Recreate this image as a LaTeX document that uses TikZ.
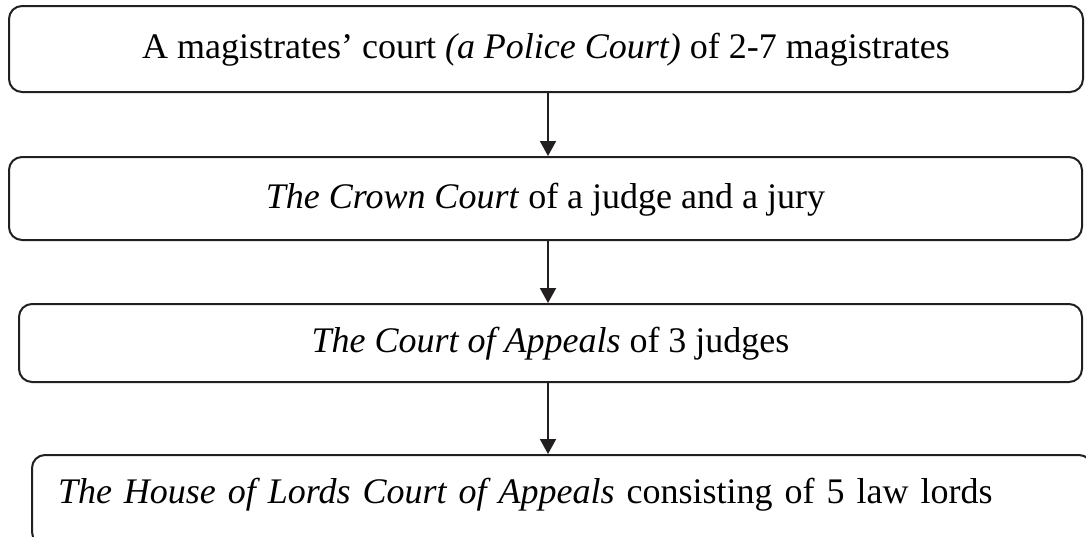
\documentclass[tikz,border=0pt]{standalone}
\usepackage{fontspec}
\setmainfont{Liberation Serif}
\usetikzlibrary{arrows.meta}
\definecolor{ink}{RGB}{35,31,32}
\begin{document}
\begin{tikzpicture}[x=1pt,y=-1pt,
  box/.style={draw=ink, line width=2pt, rounded corners=13pt, inner sep=0pt,
    font=\fontsize{36}{44}\selectfont, text=black, text height=28pt, text depth=9pt},
  conn/.style={line width=2pt, draw=ink, -{Triangle[width=16pt,length=15pt,fill=ink]}}]
\useasboundingbox (0,0) rectangle (1086,536);
\clip (0,0) rectangle (1086,536);
\node[box, minimum width=1074pt, minimum height=86pt] (b1) at (546,49)
  {A magistrates' court \textit{(a Police Court)} of 2-7 magistrates};
\node[box, minimum width=1073pt, minimum height=83pt] (b2) at (545.5,198.5)
  {\textit{The Crown Court} of a judge and a jury};
\node[box, minimum width=1063pt, minimum height=78pt] (b3) at (550.5,343)
  {\textit{The Court of Appeals} of 3 judges};
\node[box, minimum width=1060pt, minimum height=90pt, text height=27pt, text depth=21pt,
  align=left, text width=1008pt, inner xsep=26pt] (b4) at (562,500)
  {\textit{The House of Lords Court of Appeals} consisting of 5 law lords};
\coordinate (ax) at (548,0);
\draw[conn] (b1.south -| ax) -- (b2.north -| ax);
\draw[conn] (b2.south -| ax) -- (b3.north -| ax);
\draw[conn] (b3.south -| ax) -- (b4.north -| ax);
\end{tikzpicture}
\end{document}
